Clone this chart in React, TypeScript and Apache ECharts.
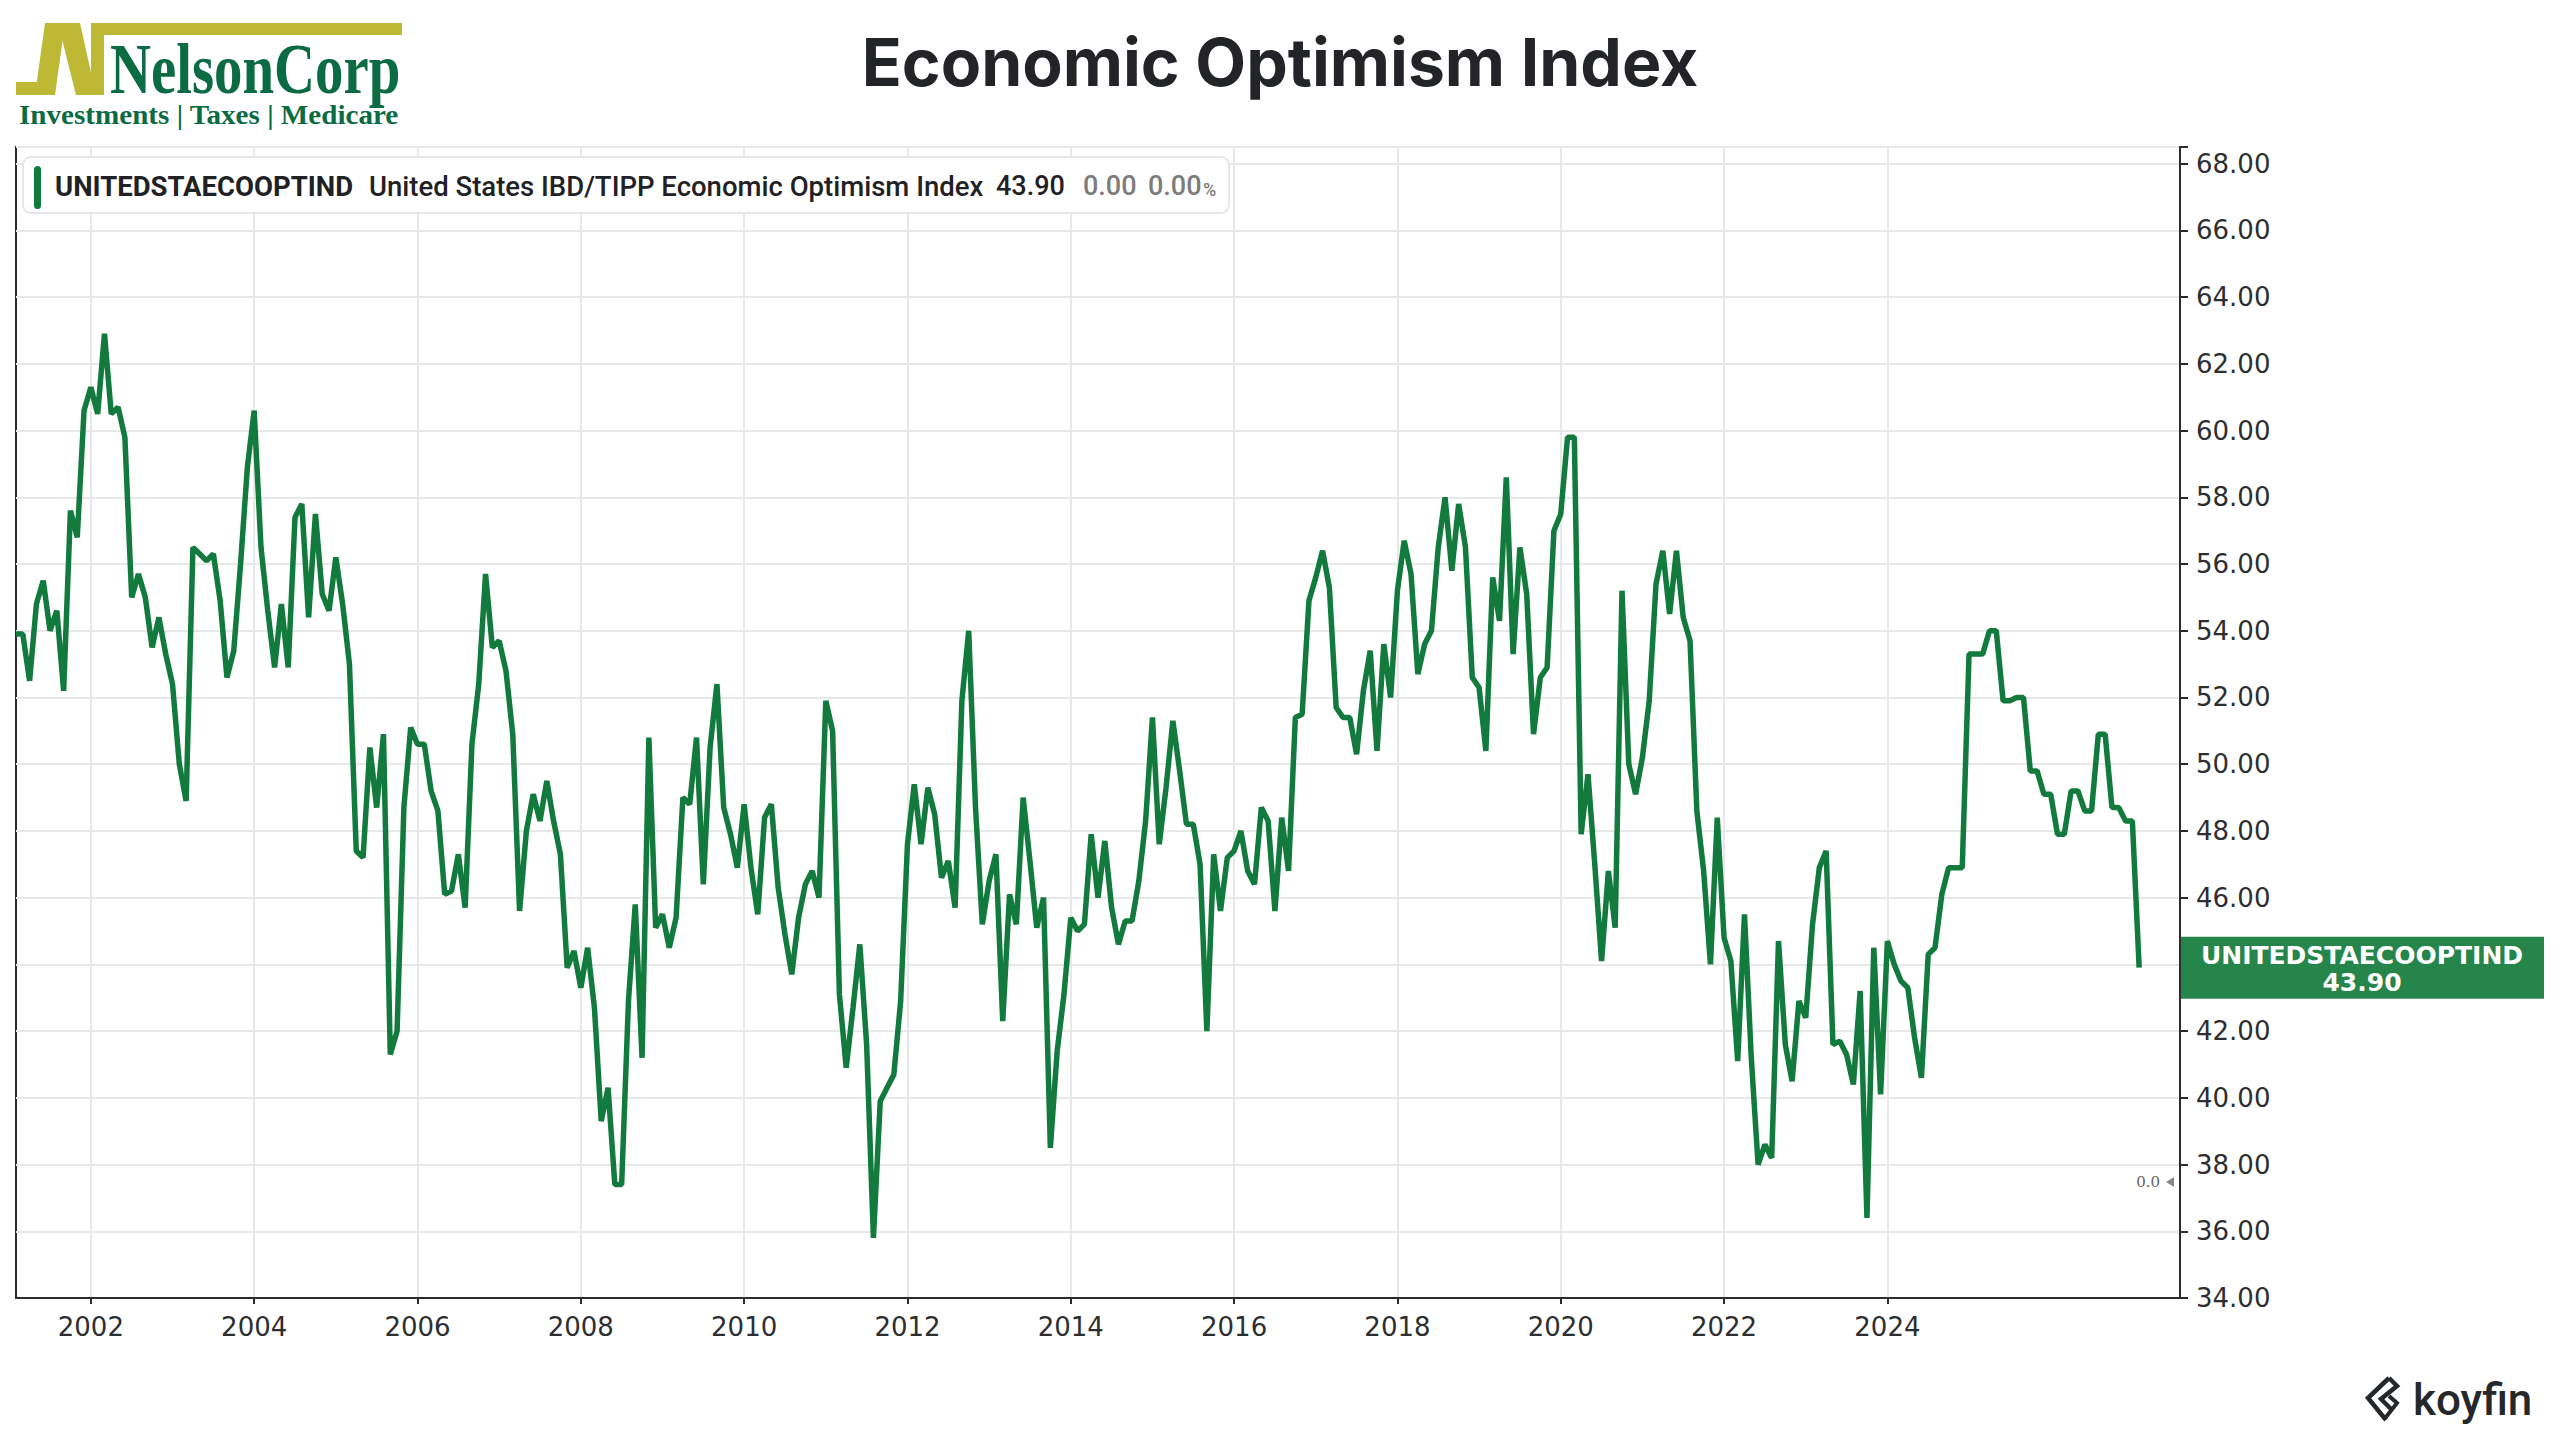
import React, { useEffect, useRef } from "react";
import * as echarts from "echarts";

const SERIES_CODE = "UNITEDSTAECOOPTIND";
const SERIES_NAME = "United States IBD/TIPP Economic Optimism Index";
const TITLE = "Economic Optimism Index";
const LAST_TEXT = "43.90";
const CHANGE_TEXT = "0.00";
const CHANGE_PCT_TEXT = "0.00";
const SIDE_MARK_TEXT = "0.0";

// Feb 2001 onward, monthly readings, then the recent stretch drawn at two points per month
const VALUES: number[] = [
  53.9, 53.9, 52.5, 54.8, 55.5, 54.0, 54.6, 52.2, 57.6, 56.8, 60.6,
  61.3, 60.5, 62.9, 60.5, 60.7, 59.8, 55.0, 55.7, 55.0, 53.5, 54.4, 53.3,
  52.4, 50.0, 48.9, 56.5, 56.3, 56.1, 56.3, 54.9, 52.6, 53.4, 56.0, 58.9,
  60.6, 56.5, 54.6, 52.9, 54.8, 52.9, 57.4, 57.8, 54.4, 57.5, 55.1, 54.6,
  56.2, 54.8, 53.0, 47.4, 47.2, 50.5, 48.7, 50.9, 41.3, 42.0, 48.7, 51.1,
  50.6, 50.6, 49.2, 48.6, 46.1, 46.2, 47.3, 45.7, 50.6, 52.4, 55.7, 53.5,
  53.7, 52.8, 50.9, 45.6, 48.0, 49.1, 48.3, 49.5, 48.3, 47.3, 43.9, 44.4,
  43.3, 44.5, 42.7, 39.3, 40.3, 37.4, 37.4, 42.9, 45.8, 41.2, 50.8, 45.1,
  45.5, 44.5, 45.4, 49.0, 48.8, 50.8, 46.4, 50.5, 52.4, 48.7, 47.9, 46.9,
  48.8, 46.9, 45.5, 48.4, 48.8, 46.3, 44.9, 43.7, 45.4, 46.4, 46.8, 46.0,
  51.9, 51.0, 43.1, 40.9, 42.7, 44.6, 41.6, 35.8, 39.9, 40.3, 40.7, 42.9,
  47.6, 49.4, 47.6, 49.3, 48.5, 46.6, 47.1, 45.7, 51.9, 54.0, 48.7, 45.2,
  46.5, 47.3, 42.3, 46.1, 45.2, 49.0, 47.1, 45.1, 46.0, 38.5, 41.4, 43.1,
  45.4, 45.0, 45.2, 47.9, 46.0, 47.7, 45.7, 44.6, 45.3, 45.3, 46.5, 48.3,
  51.4, 47.6, 49.3, 51.3, 49.8, 48.2, 48.2, 47.0, 42.0, 47.3, 45.6, 47.2,
  47.4, 48.0, 46.8, 46.4, 48.7, 48.3, 45.6, 48.4, 46.8, 51.4, 51.5, 54.9,
  55.6, 56.4, 55.3, 51.7, 51.4, 51.4, 50.3, 52.2, 53.4, 50.4, 53.6, 52.0,
  55.2, 56.7, 55.7, 52.7, 53.6, 54.0, 56.5, 58.0, 55.8, 57.8, 56.5, 52.6,
  52.3, 50.4, 55.6, 54.3, 58.6, 53.3, 56.5, 55.1, 50.9, 52.6, 52.9, 57.0,
  57.5, 59.8, 59.8, 47.9, 49.7, 47.0, 44.1, 46.8, 45.1, 55.2, 50.0, 49.1,
  50.2, 51.9, 55.4, 56.4, 54.5, 56.4, 54.4, 53.7, 48.6, 46.8, 44.0, 48.4,
  44.8, 44.1, 41.1, 45.5, 41.2, 38.0, 38.6, 38.2, 44.7, 41.6, 40.5, 42.9,
  42.4, 45.2, 46.9, 47.4, 41.6, 41.7, 41.3, 40.4, 43.2, 36.4, 44.5, 40.1,
  44.7, 44.0, 43.5, 43.3, 41.8, 40.6, 44.3, 44.5, 46.1, 46.9,
  46.9, 46.9, 53.3, 53.3, 53.3, 54.0, 54.0, 51.9, 51.9, 52.0, 52.0, 49.8,
  49.8, 49.1, 49.1, 47.9, 47.9, 49.2, 49.2, 48.6, 48.6, 50.9, 50.9, 48.7,
  48.7, 48.3, 48.3, 43.9,
];

const START_YEAR = 2001;
const START_MONTH = 2;
const MONTHLY_COUNT = 285;
const RIGHT_PAD_POINTS = 6;
const YEAR_TICKS = ["2002", "2004", "2006", "2008", "2010", "2012", "2014", "2016", "2018", "2020", "2022", "2024"];
const Y_MIN = 34;
const Y_MAX = 68.5;
const Y_STEP = 2;

const pad2 = (n: number) => (n < 10 ? "0" + n : "" + n);

function buildCategories(n: number): string[] {
  const out: string[] = [];
  for (let k = 0; k < n; k++) {
    if (k < MONTHLY_COUNT) {
      const m = START_MONTH - 1 + k;
      out.push(`${START_YEAR + Math.floor(m / 12)}-${pad2((m % 12) + 1)}`);
    } else {
      const j = k - MONTHLY_COUNT;
      const m = START_MONTH - 1 + MONTHLY_COUNT + Math.floor(j / 2);
      out.push(`${START_YEAR + Math.floor(m / 12)}-${pad2((m % 12) + 1)}-${j % 2 === 0 ? "01" : "15"}`);
    }
  }
  return out;
}

const LINE_GREEN = "#127a3d";
const LABEL_GREEN = "#25854b";
const OLIVE = "#bdb934";
const LOGO_GREEN = "#0b6b43";
const DARK = "#2a2c2f";

export default function App() {
  const ref = useRef<HTMLDivElement>(null);

  useEffect(() => {
    if (!ref.current) return;
    const chart = echarts.init(ref.current, undefined, { renderer: "svg" });

    const cats = buildCategories(VALUES.length);
    const tickSet = new Set(YEAR_TICKS.map((y) => `${y}-01`));
    const allCats = cats.concat(Array.from({ length: RIGHT_PAD_POINTS }, (_, i) => `pad${i}`));
    const data: (number | null)[] = (VALUES as (number | null)[]).concat(
      Array.from({ length: RIGHT_PAD_POINTS }, () => null)
    );
    const isTick = (_i: number, v: string) => tickSet.has(v);

    chart.setOption({
      animation: false,
      backgroundColor: "#ffffff",
      grid: {
        left: 16,
        right: 380,
        top: 147,
        bottom: 142,
        show: true,
        borderColor: DARK,
        borderWidth: 2,
        backgroundColor: "#ffffff",
      },
      xAxis: {
        type: "category",
        data: allCats,
        boundaryGap: false,
        axisLine: { show: true, lineStyle: { color: DARK, width: 2 } },
        axisTick: { show: true, interval: isTick, length: 6, lineStyle: { color: DARK, width: 2 } },
        axisLabel: {
          interval: isTick,
          formatter: (v: string) => v.slice(0, 4),
          fontFamily: "DejaVu Sans",
          fontSize: 26,
          color: "#2c2e31",
          margin: 16,
        },
        splitLine: { show: true, interval: isTick, lineStyle: { color: "#e8e8e8", width: 2 } },
      },
      yAxis: {
        type: "value",
        position: "right",
        min: Y_MIN,
        max: Y_MAX,
        interval: Y_STEP,
        axisLine: { show: true, lineStyle: { color: DARK, width: 2 } },
        axisTick: { show: true, length: 8, lineStyle: { color: DARK, width: 2 } },
        axisLabel: {
          formatter: (v: number) => (Math.abs(v % Y_STEP) < 1e-9 ? v.toFixed(2) : ""),
          fontFamily: "DejaVu Sans",
          fontSize: 26,
          color: "#2c2e31",
          margin: 16,
        },
        splitLine: { show: true, lineStyle: { color: "#e8e8e8", width: 2 } },
      },
      series: [
        {
          type: "line",
          data,
          symbol: "none",
          showSymbol: false,
          silent: true,
          connectNulls: false,
          lineStyle: { color: LINE_GREEN, width: 5.5 },
          z: 5,
        },
      ],
    });

    const lastIdx = VALUES.length - 1;
    const lastVal = VALUES[lastIdx];
    const pt = chart.convertToPixel({ xAxisIndex: 0, yAxisIndex: 0 }, [lastIdx, lastVal]) as number[];
    const py = pt[1];

    const txt = (x: number, y: number, text: string, font: string, fill: string, align = "left") => ({
      type: "text",
      z: 100,
      style: { x, y, text, font, fill, textAlign: align, textVerticalAlign: "middle" },
    });

    const graphic: any[] = [
      // logo
      { type: "rect", z: 100, shape: { x: 16, y: 82, width: 30, height: 13 }, style: { fill: OLIVE } },
      { type: "polygon", z: 100, shape: { points: [[35, 95], [55, 95], [65, 23], [45, 23]] }, style: { fill: OLIVE } },
      { type: "polygon", z: 100, shape: { points: [[58, 23], [80, 23], [96, 95], [76, 95]] }, style: { fill: OLIVE } },
      { type: "polygon", z: 100, shape: { points: [[91, 23], [104, 23], [104, 95], [91, 95]] }, style: { fill: OLIVE } },
      { type: "rect", z: 100, shape: { x: 91, y: 23, width: 311, height: 12 }, style: { fill: OLIVE } },
      {
        type: "group",
        x: 110,
        y: 69,
        scaleX: 0.8,
        z: 100,
        children: [txt(0, 0, "NelsonCorp", "bold 71px 'Liberation Serif'", LOGO_GREEN)],
      },
      {
        type: "group",
        x: 19,
        y: 115,
        scaleX: 1.04,
        z: 100,
        children: [txt(0, 0, "Investments | Taxes | Medicare", "bold 28px 'Liberation Serif'", LOGO_GREEN)],
      },
      // title
      txt(1280, 62, TITLE, "700 66px Inter", "#222427", "center"),
      // legend
      {
        type: "rect",
        z: 100,
        shape: { x: 23, y: 157, width: 1206, height: 56, r: 8 },
        style: { fill: "#ffffff", stroke: "#e6e6e6", lineWidth: 2 },
      },
      { type: "rect", z: 101, shape: { x: 34, y: 166, width: 7, height: 43, r: 3.5 }, style: { fill: LINE_GREEN } },
      txt(55, 186, SERIES_CODE, "700 27.5px Roboto", "#1f2124"),
      txt(369, 186, SERIES_NAME, "500 27.5px Roboto", "#1f2124"),
      txt(996, 186, LAST_TEXT, "500 27px Roboto", "#1f2124"),
      txt(1083, 186, CHANGE_TEXT, "500 27px Roboto", "#7c7c7c"),
      txt(1148, 186, CHANGE_PCT_TEXT, "500 27px Roboto", "#7c7c7c"),
      txt(1203, 189, "%", "500 18px Roboto", "#7c7c7c"),
      // side marker
      txt(2160, 1182, SIDE_MARK_TEXT, "15px 'DejaVu Serif'", "#666666", "right"),
      { type: "polygon", z: 100, shape: { points: [[2166, 1182], [2174, 1177], [2174, 1187]] }, style: { fill: "#888888" } },
      // end label
      { type: "rect", z: 100, shape: { x: 2181, y: py - 31, width: 363, height: 62 }, style: { fill: LABEL_GREEN } },
      {
        type: "text",
        z: 101,
        style: {
          x: 2362,
          y: py + 1,
          text: `${SERIES_CODE}\n${LAST_TEXT}`,
          font: "bold 25px 'DejaVu Sans'",
          fill: "#ffffff",
          textAlign: "center",
          textVerticalAlign: "middle",
          lineHeight: 27,
        },
      },
      // koyfin mark
      {
        type: "polyline",
        z: 100,
        shape: { points: [[2389, 1378], [2368, 1398], [2386, 1420]] },
        style: { stroke: "#25282b", lineWidth: 4.5, fill: "none" },
      },
      {
        type: "polyline",
        z: 100,
        shape: { points: [[2389, 1378], [2397, 1386], [2381, 1399], [2392, 1410]] },
        style: { stroke: "#25282b", lineWidth: 4.5, fill: "none" },
      },
      {
        type: "polyline",
        z: 100,
        shape: { points: [[2389, 1396], [2397, 1403], [2386, 1417]] },
        style: { stroke: "#25282b", lineWidth: 4, fill: "none" },
      },
      txt(2413, 1400, "koyfin", "500 44px Roboto", "#25282b"),
    ];

    chart.setOption({ graphic });

    return () => chart.dispose();
  }, []);

  return (
    <div
      ref={ref}
      style={{ position: "fixed", left: 0, top: 0, width: 2560, height: 1440, background: "#fff" }}
    />
  );
}
